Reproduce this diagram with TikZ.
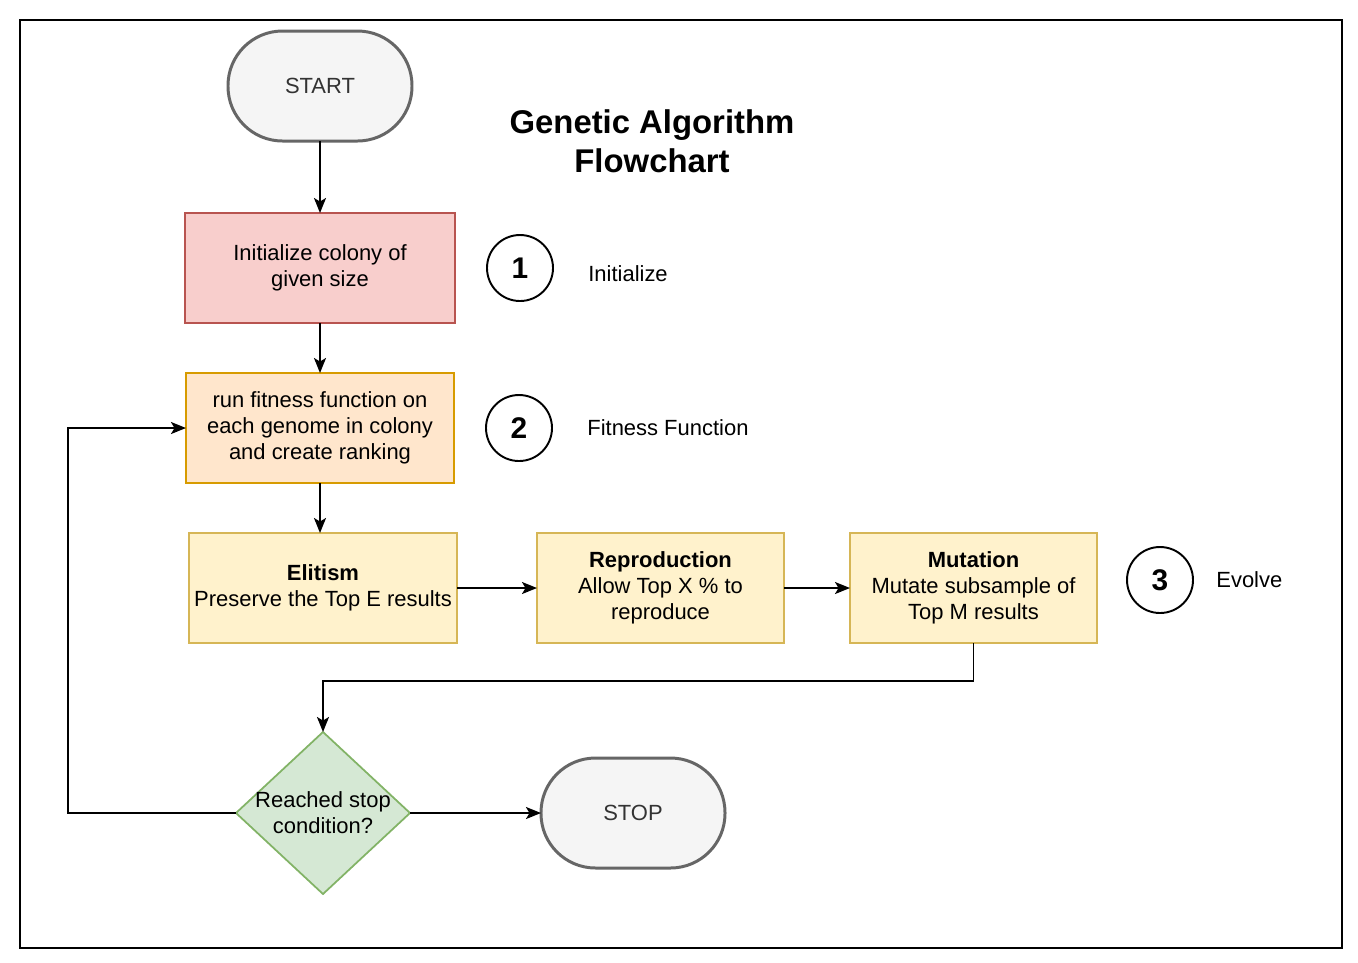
\documentclass[tikz,border=0pt]{standalone}
\usepackage{fontspec}
\setmainfont{Liberation Sans}
\usetikzlibrary{positioning,shapes.geometric,arrows.meta}

\definecolor{termfill}{HTML}{F5F5F5}
\definecolor{termdraw}{HTML}{666666}
\definecolor{termtext}{HTML}{333333}
\definecolor{initfill}{HTML}{F8CECC}
\definecolor{initdraw}{HTML}{B85450}
\definecolor{fitfill}{HTML}{FFE6CC}
\definecolor{fitdraw}{HTML}{D79B00}
\definecolor{evofill}{HTML}{FFF2CC}
\definecolor{evodraw}{HTML}{D6B656}
\definecolor{decfill}{HTML}{D5E8D4}
\definecolor{decdraw}{HTML}{82B366}

\begin{document}
\begin{tikzpicture}[
    font=\fontsize{12.5}{14.8}\selectfont,
    block/.style={rectangle, align=center, line width=1pt, minimum width=5.36cm, minimum height=2.2cm, inner sep=0pt, outer sep=0pt},
    terminal/.style={rectangle, rounded corners=1.09cm, draw=termdraw, fill=termfill, text=termtext, line width=1.7pt, minimum width=3.68cm, minimum height=2.2cm, outer sep=0pt},
    initblock/.style={block, draw=initdraw, fill=initfill, minimum width=5.4cm},
    fitblock/.style={block, draw=fitdraw, fill=fitfill},
    evolveblock/.style={block, draw=evodraw, fill=evofill},
    decision/.style={diamond, draw=decdraw, fill=decfill, line width=1pt, minimum width=3.48cm, minimum height=3.24cm, inner sep=0pt, outer sep=0pt},
    numcircle/.style={circle, draw=black, line width=1.1pt, minimum size=1.32cm, inner sep=0pt, outer sep=0pt, font=\fontsize{17}{20}\selectfont\bfseries},
    note/.style={inner sep=0pt},
    title/.style={align=center, font=\fontsize{18.7}{22.1}\selectfont\bfseries},
    arrow/.style={-{Stealth[length=0.3cm, width=0.24cm, inset=0.07cm]}, line width=1.1pt},
]
    \useasboundingbox (0,0) rectangle (27.16,-19.24);

    % Outer frame
    \draw[line width=1.1pt] (0.4,-0.4) rectangle (26.84,-18.96);

    % Title
    \node[title] (title) at (13.04,-2.82) {Genetic Algorithm\\Flowchart};

    % Main column
    \node[terminal] (start) at (6.4,-1.72) {START};
    \node[initblock, below=1.44cm of start] (init) {Initialize colony of\\given size};
    \node[fitblock, below=1cm of init] (fitness) {run fitness function on\\each genome in colony\\and create ranking};

    % Evolve row
    \node[evolveblock, below=1cm of fitness, xshift=0.06cm] (elitism) {\textbf{Elitism}\\Preserve the Top E results};
    \node[evolveblock, minimum width=4.94cm, right=1.6cm of elitism] (repro) {\textbf{Reproduction}\\Allow Top X \% to\\reproduce};
    \node[evolveblock, minimum width=4.94cm, right=1.32cm of repro] (mutation) {\textbf{Mutation}\\Mutate subsample of\\Top M results};

    % Stop check
    \node[decision, below=1.78cm of elitism, label={[align=center]center:Reached stop\\condition?}] (stopcheck) {};
    \node[terminal, right=2.62cm of stopcheck] (stop) {STOP};

    % Numbered steps
    \node[numcircle, right=0.64cm of init] (one) {1};
    \node[numcircle, right=0.64cm of fitness] (two) {2};
    \node[numcircle, right=0.6cm of mutation, yshift=0.16cm] (three) {3};
    \node[note, right=0.7cm of one, yshift=-0.12cm] (initnote) {Initialize};
    \node[note, right=0.7cm of two] (fitnote) {Fitness Function};
    \node[note, right=0.46cm of three] (evolvenote) {Evolve};

    % Arrows
    \draw[arrow] (start) -- (init);
    \draw[arrow] (init) -- (fitness);
    \draw[arrow] (fitness.south) -- (fitness.south |- elitism.north);
    \draw[arrow] (elitism) -- (repro);
    \draw[arrow] (repro) -- (mutation);
    \draw[arrow] (mutation.south) -- ++(0,-0.76) -| (stopcheck.north);
    \draw[arrow] (stopcheck.west) -- ++(-3.36,0) |- (fitness.west);
    \draw[arrow] (stopcheck) -- (stop);

\end{tikzpicture}
\end{document}
